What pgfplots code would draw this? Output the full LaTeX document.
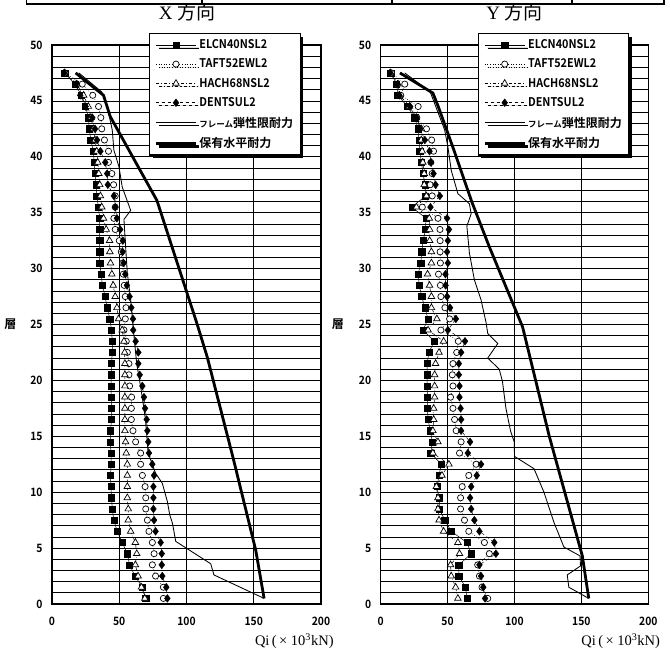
\documentclass[border=0pt]{standalone}
\usepackage{pgfplots}
\pgfplotsset{compat=1.18}
\usepackage{pgfplotstable}
\usepackage{fontspec}
\setmainfont{Liberation Serif}
\newfontfamily\goth[FakeStretch=0.9, BoldFont={Noto Sans CJK JP Bold}]{Noto Sans CJK JP}
\newfontfamily\jp[BoldFont={Noto Sans CJK JP Bold}]{Noto Sans CJK JP}
\usetikzlibrary{shadows}

\pgfplotstableread{
y elcn taft hach dent
0.5 69.7 82.8 69 85.8
1.5 67.2 82.8 66.5 85
2.5 61.7 77 64 82
3.5 57.7 74.6 62 81.6
4.5 56 75.9 63 81.6
5.5 52.2 74.6 62 80.8
6.5 48.5 72.1 58.5 77
7.5 46 70.9 56.7 75.9
8.5 44.8 69.7 56.7 75.4
9.5 44.3 69.7 56 75.4
10.5 43.8 69.2 56 75.4
11.5 43.5 67.2 56 75.9
12.5 44 65.9 56 74.6
13.5 43.8 65.9 55.2 72.1
14.5 43.5 62.2 54.7 71.6
15.5 43.5 60.2 54.2 70.9
16.5 44.3 59 54.2 70.4
17.5 44.3 59 54.2 69.2
18.5 44 59.2 54.2 68.4
19.5 44 57.7 54.2 67.2
20.5 44 57.2 54.2 65.2
21.5 44.3 57.2 54.2 64.2
22.5 44.8 56 54 64.2
23.5 44.8 55.2 53.5 62.2
24.5 44.3 53.5 52.2 60.4
25.5 43 54.5 49.5 60.2
26.5 41 55 48.3 59
27.5 39.5 54.5 47 57.7
28.5 37.5 53.7 45.5 55.7
29.5 36.5 53 44.5 54.5
30.5 35.5 52.5 43.5 53.2
31.5 35.5 51.5 43 52.5
32.5 35.5 50 42.8 52.7
33.5 35.5 47 40.3 50.7
34.5 35.5 46 38.3 48.3
35.5 34.5 47 37 47
36.5 33.3 47 36 46
37.5 32.8 45.8 35.5 41.5
38.5 32 44.5 34.8 41
39.5 31.3 42 34 39.6
40.5 30.8 42 33.3 36
41.5 28.8 39 32 33.5
42.5 27.8 37 30.8 32
43.5 27 36.3 29 30
44.5 25 34.6 27 25
45.5 22 30.3 23.5 21
46.5 17 22.5 18.5 18
47.5 9.5 9.7 9.5 9
}\leftdata

\pgfplotstableread{
y elcn taft hach dent
0.5 64.4 80 57.7 78
1.5 63.4 75.7 56 76.7
2.5 58.4 73.8 52.7 75
3.5 58.4 72.5 52.2 73.8
4.5 67.6 81.2 58.9 86.1
5.5 64.4 77.5 57.7 84.9
6.5 52.7 65.8 47 73.8
7.5 47.8 62.6 43.6 70
8.5 44 59.7 42.8 67.6
9.5 43.6 59.7 42.8 66.8
10.5 42 60.9 41.6 67.6
11.5 43.6 65.8 45.8 71.8
12.5 45.3 71.3 51 75
13.5 37.4 58.9 39 65.1
14.5 38.6 60.1 42.8 66.8
15.5 37.1 56.4 39 60.1
16.5 35.4 55.2 39.6 60.1
17.5 34.9 54 39.6 59.7
18.5 34.9 52.2 40.3 58.9
19.5 34.7 54 40.3 58.9
20.5 34.7 53.5 40.3 58.4
21.5 34.7 54 41 58.4
22.5 36 56.8 43.6 60.1
23.5 40 58 47 63
24.5 31.7 45 35.4 50.2
25.5 35.4 51.5 42 56.2
26.5 33 48 37.9 51.8
27.5 30.7 45 37.9 49.6
28.5 28.8 44.6 36.5 48.5
29.5 28 43.2 35 48.4
30.5 30 44.6 37.9 50.2
31.5 30.7 44.4 37.9 49.6
32.5 31.7 44.4 36.6 50.2
33.5 33.5 44.3 36.6 51
34.5 33.8 42.8 36.3 49.6
35.5 23.3 31.1 26.7 37.2
36.5 33.5 38.5 34.2 44.2
37.5 33 37 32.5 41
38.5 31.7 38.5 32.5 39.5
39.5 30.4 37.5 31.5 37.5
40.5 29.2 39.5 31 36.5
41.5 28.7 38.1 30.3 33
42.5 27.8 34.2 30.4 29.5
43.5 25.5 27 26.5 26.7
44.5 20 28 21.5 22
45.5 12.8 15 14 14
46.5 11.9 18 13 12.5
47.5 7.5 8 7.5 7
}\rightdata

\pgfplotsset{
  qstyle/.style={
    scale only axis, height=559pt,
    xmin=0, xmax=200, ymin=0, ymax=50,
    xtick={0,50,100,150,200}, ytick={0,5,...,50},
    minor ytick={1,...,49},
    grid=both,
    major grid style={black, line width=0.75pt},
    minor grid style={black, line width=0.75pt},
    axis line style={line width=1.4pt},
    major tick length=0pt, minor tick length=0pt,
    /pgf/number format/assume math mode=true,
    ticklabel style={font=\goth\bfseries\fontsize{11.5}{11.5}\selectfont},
    xticklabel style={yshift=-10pt},
    yticklabel style={xshift=-6pt},
    ylabel={\jp\bfseries 層},
    ylabel style={rotate=-90, anchor=center, font=\fontsize{12}{12}\selectfont},
    xlabel={Qi\,(\,× 10\textsuperscript{3}kN)},
    xlabel style={anchor=east, font=\fontsize{14.5}{14.5}\selectfont},
    title style={anchor=center, font=\fontsize{19}{19}\selectfont},
    legend cell align=left,
    legend style={draw=black, line width=1.2pt, fill=white,
      general shadow={fill=black, shadow xshift=3pt, shadow yshift=-3pt},
      font=\goth\bfseries\fontsize{12}{12}\selectfont,
      inner xsep=5pt, inner ysep=4pt, row sep=4.8pt,
      anchor=north west},
    legend image code/.code={\draw[mark repeat=2,mark phase=2,#1] plot coordinates {(0pt,0pt)(20pt,0pt)(40pt,0pt)};},
  },
  elcn/.style={black, solid, line width=0.5pt, mark=square*, mark size=3.1pt, mark options={solid}},
  taft/.style={black, dotted, line width=0.6pt, mark=*, mark size=3.1pt, mark options={solid, fill=white, line width=0.7pt}},
  hach/.style={black, dash dot, line width=0.5pt, mark=triangle*, mark size=3.8pt, mark options={solid, fill=white, line width=0.7pt}},
  dent/.style={black, dashed, line width=0.5pt, mark=diamond*, mark size=3.8pt, mark options={solid}},
  elas/.style={black, solid, line width=0.85pt, mark=none},
  hold/.style={black, solid, line width=2.8pt, mark=none},
}

\begin{document}
\begin{tikzpicture}
\useasboundingbox (0pt,0pt) rectangle (670pt,653pt);
% top table fragment
\draw[line width=1.8pt] (26.5pt,653pt) -- (26.5pt,649pt) -- (664pt,649pt) -- (664pt,653pt);
\foreach \xx in {202,392,572} {\draw[line width=1.8pt] (\xx pt,649pt) -- (\xx pt,653pt);}

\begin{axis}[qstyle, at={(52pt,49pt)}, anchor=south west, width=269pt,
  title={X {\jp 方向}},
  title style={at={(axis description cs:0.502,1.048)}},
  ylabel style={at={(axis description cs:-0.155,0.5)}},
  xlabel style={at={(axis description cs:1.06,-0.066)}},
  legend style={at={(axis description cs:0.3606,1.0215)}},
]
\addplot[elcn] table[x=elcn,y=y] {\leftdata};
\addlegendentry{ELCN40NSL2}
\addplot[taft] table[x=taft,y=y] {\leftdata};
\addlegendentry{TAFT52EWL2}
\addplot[hach] table[x=hach,y=y] {\leftdata};
\addlegendentry{HACH68NSL2}
\addplot[dent] table[x=dent,y=y] {\leftdata};
\addlegendentry{DENTSUL2}
\addplot[elas] coordinates {(20,47.5)(37,45.8)(41,44.5)(44.8,42.4)(46,40.6)(49.8,39.1)(52.2,37.3)(58.5,35.2)(53.5,34.4)(54.7,32)(56,29.6)(58.5,27.2)(60.5,24.5)(63,21.5)(66.5,19)(69.5,16.5)(71.5,13.5)(77,11.7)(82,10.8)(85.7,9.2)(87.5,8)(89.6,7.2)(92,5.6)(118,3.6)(120.4,2.6)(157.7,0.5)};
\addlegendentry{{\jp\bfseries\fontsize{8.5}{8.5}\selectfont フレーム}{\jp\bfseries 弾性限耐力}}
\addplot[hold] coordinates {(17.6,47.5)(38.3,45.5)(43.3,43.6)(78,36.1)(108,25)(115.4,22.1)(135,12.9)(151.5,4.8)(157.7,0.5)};
\addlegendentry{{\jp\bfseries 保有水平耐力}}
\end{axis}

\begin{axis}[qstyle, at={(380.7pt,49pt)}, anchor=south west, width=267.6pt,
  title={Y {\jp 方向}},
  title style={at={(axis description cs:0.5,1.048)}},
  ylabel style={at={(axis description cs:-0.16,0.5)}},
  xlabel style={at={(axis description cs:1.057,-0.066)}},
  legend style={at={(axis description cs:0.3625,1.0215)}},
]
\addplot[elcn] table[x=elcn,y=y] {\rightdata};
\addlegendentry{ELCN40NSL2}
\addplot[taft] table[x=taft,y=y] {\rightdata};
\addlegendentry{TAFT52EWL2}
\addplot[hach] table[x=hach,y=y] {\rightdata};
\addlegendentry{HACH68NSL2}
\addplot[dent] table[x=dent,y=y] {\rightdata};
\addlegendentry{DENTSUL2}
\addplot[elas] coordinates {(18,47.5)(37,45.8)(47.8,42.4)(50.2,40.9)(52.7,38.8)(57.7,36.7)(66.3,35.8)(67.6,34.9)(64.4,33.8)(66.3,31.4)(70,29)(75,27.2)(78.7,25.2)(80,24.2)(87.5,23.3)(80,22)(88.6,21)(91,19.9)(93.6,17.5)(97,15.5)(99.8,14.5)(100,13.2)(114.6,12.1)(122,10)(129.5,7.3)(136.9,5.1)(149,4.3)(149.3,3.4)(139.4,2.6)(140.6,1.5)(155.5,0.5)};
\addlegendentry{{\jp\bfseries\fontsize{8.5}{8.5}\selectfont フレーム}{\jp\bfseries 弾性限耐力}}
\addplot[hold] coordinates {(14.4,47.5)(39,45.7)(43,44.5)(55,40.5)(68,36)(81,32)(106,24.8)(126,15)(150.7,4.3)(155.5,0.5)};
\addlegendentry{{\jp\bfseries 保有水平耐力}}
\end{axis}
\end{tikzpicture}
\end{document}
